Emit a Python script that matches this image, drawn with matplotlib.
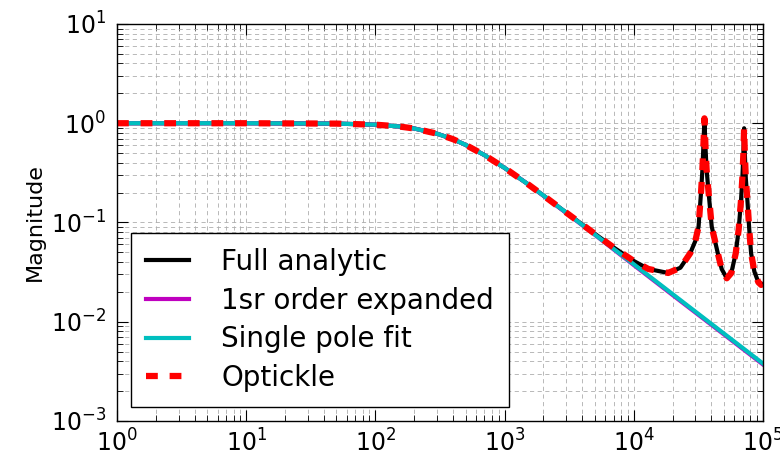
import matplotlib
matplotlib.use('Agg')
import matplotlib.pyplot as plt

# single pole response (Single pole fit / 1st order expanded)
freq_sp = [1, 10, 50, 100, 150, 200, 300, 400, 500, 700, 1000, 1500, 2000,
           3000, 5000, 10000, 20000, 50000, 100000]
mag_fit = [1.0, 1.0, 0.991, 0.967, 0.93, 0.885, 0.785, 0.69, 0.605, 0.477,
           0.355, 0.246, 0.187, 0.126, 0.0757, 0.038, 0.019, 0.0076, 0.0038]
mag_first = [1.0, 1.0, 0.991, 0.967, 0.93, 0.885, 0.785, 0.69, 0.605, 0.477,
             0.355, 0.246, 0.186, 0.125, 0.0752, 0.0373, 0.0186, 0.00745, 0.00372]

# full response with the two mechanical resonances
freq_full = [1, 10, 50, 100, 150, 200, 300, 400, 500, 700, 1000, 1500, 2000,
             3000, 5000, 7000, 10000, 13000, 18500, 23000, 27400, 30000,
             31800, 33300, 34000, 34600, 35300, 36000, 36700, 37900, 40200,
             44800, 48000, 52600, 57000, 61700, 65000, 67800, 69500, 70600,
             71600, 72600, 73800, 75900, 78500, 81100, 86000, 92300, 97000,
             100000]
mag_full = [1.0, 1.0, 0.991, 0.967, 0.93, 0.885, 0.785, 0.69, 0.605, 0.477,
            0.355, 0.246, 0.187, 0.126, 0.077, 0.056, 0.041, 0.034, 0.031,
            0.035, 0.049, 0.065, 0.091, 0.21, 0.33, 0.56, 1.12, 0.56, 0.34,
            0.21, 0.091, 0.049, 0.034, 0.0274, 0.031, 0.049, 0.085, 0.169,
            0.29, 0.48, 0.89, 0.48, 0.28, 0.169, 0.085, 0.049, 0.032, 0.025,
            0.0235, 0.024]
mag_optickle = mag_full

plt.rcParams['lines.scale_dashes'] = False
plt.rcParams['mathtext.fontset'] = 'dejavusans'
plt.rcParams['axes.unicode_minus'] = False

fig = plt.figure(figsize=(7.8, 4.61), dpi=100)
ax = fig.add_axes([0.15, 0.0868, 0.828, 0.8612])

ax.loglog(freq_full, mag_full, color='k', lw=3, label='Full analytic')
ax.loglog(freq_sp, mag_first, color=(0.75, 0, 0.75), lw=3, label='1sr order expanded')
ax.loglog(freq_sp, mag_fit, color=(0, 0.75, 0.75), lw=3, label='Single pole fit')
ax.loglog(freq_full, mag_optickle, color='r', lw=4.5, linestyle=(0, (8.5, 8.5)),
          label='Optickle')

ax.set_xlim(1, 1e5)
ax.set_ylim(1e-3, 1e1)
ax.set_ylabel('Magnitude', fontsize=16, labelpad=4)

ax.grid(True, which='both', color='0.68', linestyle=(0, (3, 2.5)), lw=0.6)
ax.tick_params(which='both', direction='in', top=True, right=True)
ax.tick_params(which='major', length=8, labelsize=17)
ax.tick_params(which='minor', length=4)
ax.tick_params(axis='x', pad=6)
ax.tick_params(axis='y', pad=8)
for s in ax.spines.values():
    s.set_linewidth(1.0)

leg = ax.legend(loc='lower left', fontsize=20, fancybox=False, framealpha=1,
                edgecolor='k', handlelength=1.55, handletextpad=1.15,
                labelspacing=0.38, borderpad=0.55, borderaxespad=0.5)
leg.get_frame().set_linewidth(1.0)

fig.savefig('out.png', dpi=100)
